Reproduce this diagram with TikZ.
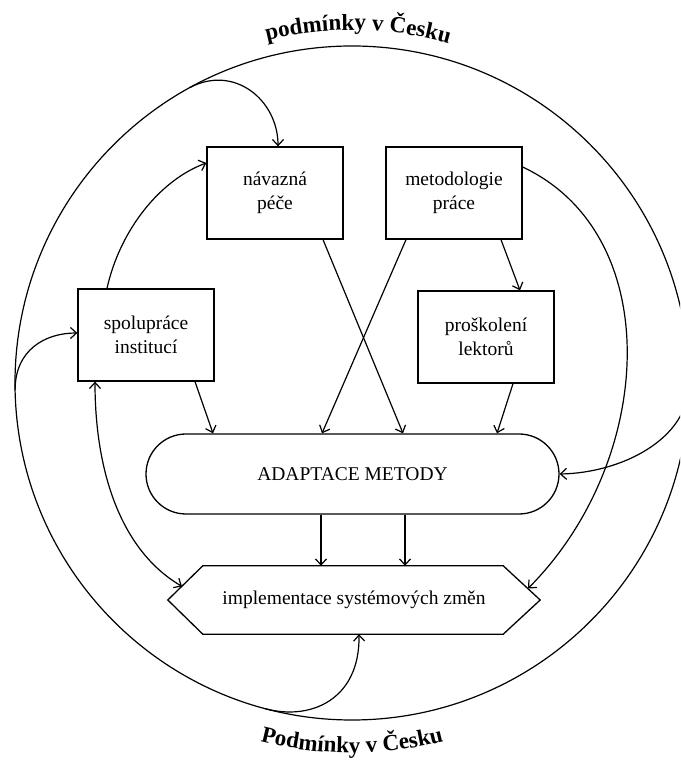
\documentclass[tikz,border=0pt]{standalone}
\usepackage{fontspec}
\setmainfont{Liberation Serif}
\usetikzlibrary{arrows.meta,decorations.text,calc}
\begin{document}
\begin{tikzpicture}[x=1pt,y=1pt,
  box/.style={draw, line width=1.3pt, minimum width=136pt, minimum height=92pt, align=center,
              font=\fontsize{19.5}{24}\selectfont, inner sep=0pt},
  ln/.style={line width=1.2pt},
  arr/.style={line width=1.2pt, -{Straight Barb[length=6pt,width=11pt,line width=1.2pt]}},
  darr/.style={line width=1.2pt, {Straight Barb[length=6pt,width=11pt,line width=1.2pt]}-{Straight Barb[length=6pt,width=11pt,line width=1.2pt]}}]
\useasboundingbox (0,0) rectangle (680,760);
\clip (0,0) rectangle (680,760);
\fill[white] (0,0) rectangle (680,760);

% outer circle
\coordinate (C) at (352,377);
\draw[ln] (C) circle (337);
\coordinate (ctl) at (189.6,672.3);
\coordinate (cl) at (15.1,369.9);
\coordinate (cr) at (689,377);
\coordinate (cb) at (265.1,51.4);

% curved titles
\path[decorate, decoration={text along path, text align=center,
   text={|\fontsize{23}{23}\selectfont\bfseries|podmínky v Česku}}]
   ($(C)+(117:353)$) arc[start angle=117, end angle=61, radius=353];
\path[decorate, decoration={text along path, text align=center,
   text={|\fontsize{23}{23}\selectfont\bfseries|Podmínky v Česku}}]
   ($(C)+(240:370)$) arc[start angle=240, end angle=300, radius=370];

% nodes
\node[box] (nav) at (275,567) {návazná\\péče};
\node[box] (met) at (454,567) {metodologie\\práce};
\node[box] (pro) at (486,423) {proškolení\\lektorů};
\node[box] (spol) at (146,425) {spolupráce\\institucí};
\node[draw, line width=1.3pt, rounded corners=40pt, minimum width=413pt, minimum height=80pt,
      inner sep=0pt, font=\fontsize{19.5}{24}\selectfont] (ada) at (352.5,286) {ADAPTACE METODY};
\node[minimum width=372pt, minimum height=68pt, inner sep=0pt,
      font=\fontsize{19.5}{24}\selectfont] (impl) at (354,160) {implementace systémových změn};
\draw[line width=1.3pt] (impl.west) -- ([xshift=35pt]impl.north west) -- ([xshift=-37pt]impl.north east)
  -- (impl.east) -- ([xshift=-37pt]impl.south east) -- ([xshift=35pt]impl.south west) -- cycle;
\coordinate (hexUL) at (182,173.6);
\coordinate (hexUR) at (528,171.5);

% connectors
\draw[arr] (ctl) .. controls (234,696) and (278,660) .. ([xshift=3pt]nav.north);
\draw[arr] ([xshift=-39pt]spol.north) .. controls (120,530) and (160,580) .. ([yshift=30pt]nav.west);
\draw[arr] (cl) .. controls (15,410) and (45,427) .. ([yshift=2pt]spol.west);
\draw[darr] ([xshift=-51pt]spol.south) .. controls (95,290) and (120,210) .. (hexUL);
\draw[arr] ([xshift=49pt]spol.south) -- ([xshift=-139.5pt]ada.north);
\draw[arr] ([xshift=48pt]nav.south) -- ([xshift=50.5pt]ada.north);
\draw[arr] ([xshift=-48pt]met.south) -- ([xshift=-30.5pt]ada.north);
\draw[arr] ([xshift=47pt]met.south) -- ([xshift=34pt]pro.north);
\draw[arr] ([xshift=27pt]pro.south) -- ([xshift=144.5pt]ada.north);
\draw[arr] ([xshift=-31.5pt]ada.south) -- ([xshift=-31.5pt]ada.south |- impl.north);
\draw[arr] ([xshift=52.5pt]ada.south) -- ([xshift=52.5pt]ada.south |- impl.north);
\draw[arr] ([yshift=26pt]met.east) .. controls (667,525) and (655,299) .. (hexUR);
\draw[arr] (cr) .. controls (689,320) and (620,287) .. (ada.east);
\draw[arr] (cb) .. controls (310,39) and (360,60) .. ([xshift=5pt]impl.south);
\end{tikzpicture}
\end{document}
